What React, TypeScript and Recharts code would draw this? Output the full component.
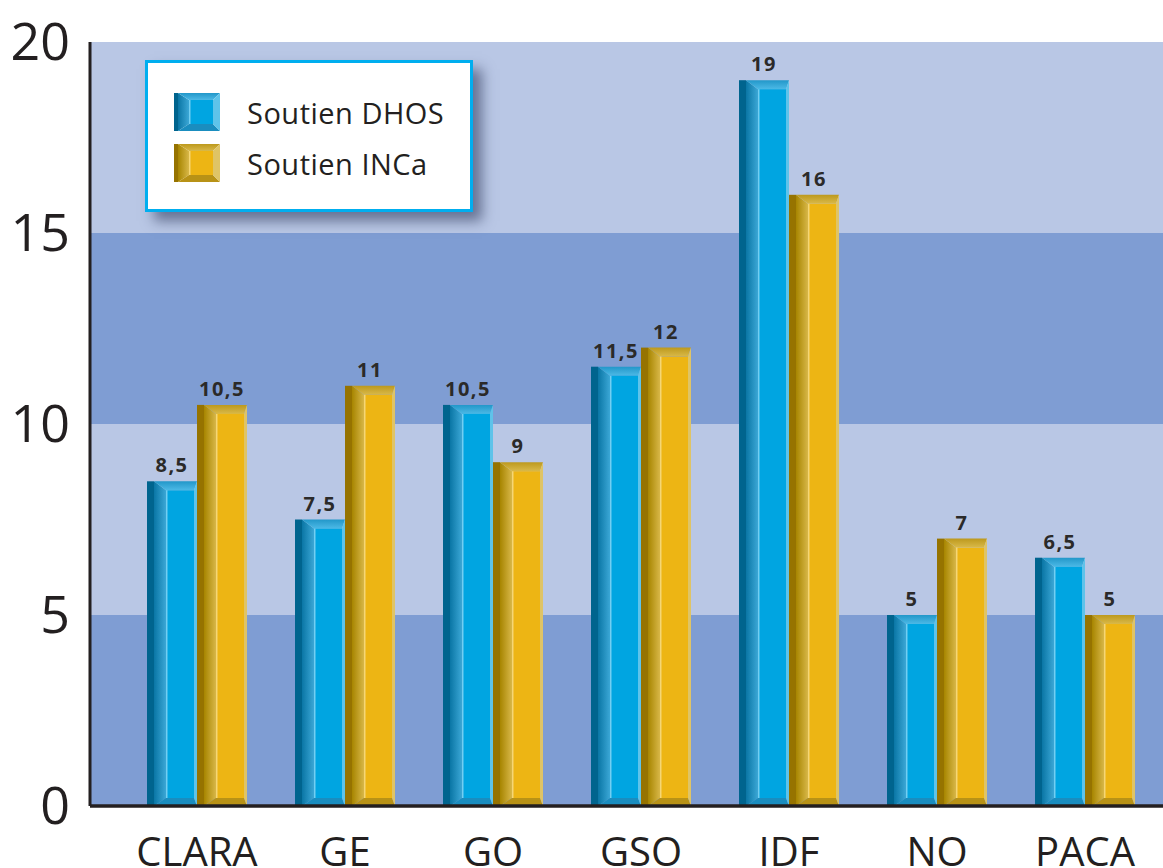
import React from 'react';
import { BarChart, Bar, XAxis, YAxis, CartesianGrid, Legend, LabelList } from 'recharts';

// Regions and the two funding series
const regions = ['CLARA', 'GE', 'GO', 'GSO', 'IDF', 'NO', 'PACA'];
const dhosValues = [8.5, 7.5, 10.5, 11.5, 19, 5, 6.5];
const incaValues = [10.5, 11, 9, 12, 16, 7, 5];
const yTicks = [0, 5, 10, 15, 20];

const chartData = regions.map((name, i) => ({ name, dhos: dhosValues[i], inca: incaValues[i] }));

const INK = '#231f20';
const FONT = '"Open Sans", sans-serif';
const BAND_DARK = '#7f9dd3';
const BAND_LIGHT = '#b9c7e5';

type Tone = 'dhos' | 'inca';

const palettes: Record<Tone, Record<string, string>> = {
  dhos: {
    dark: '#00648e',
    sideFrom: '#0a76a5',
    sideTo: '#3ba7d6',
    topFrom: '#2297c9',
    topTo: '#4cb9e6',
    face: '#00a5e1',
    right: '#5ec3ea',
    bottom: '#1a8dbf',
    line: '#72cef2',
  },
  inca: {
    dark: '#967300',
    sideFrom: '#a78500',
    sideTo: '#d8b748',
    topFrom: '#bd991d',
    topTo: '#d9b949',
    face: '#edb514',
    right: '#dfc466',
    bottom: '#b89216',
    line: '#f5d675',
  },
};

interface BevelDims {
  strip: number;
  inset: number;
  right: number;
  topH: number;
  bottomH: number;
}

const barDims: BevelDims = { strip: 7, inset: 19, right: 3, topH: 9, bottomH: 8 };
const iconDims: BevelDims = { strip: 4, inset: 15, right: 7, topH: 7, bottomH: 7 };

const BevelDefs = ({ prefix }: { prefix: string }) => (
  <defs>
    {(Object.keys(palettes) as Tone[]).map((tone) => (
      <React.Fragment key={tone}>
        <linearGradient id={`${prefix}-${tone}-side`} x1="0" y1="0" x2="1" y2="0">
          <stop offset="0%" stopColor={palettes[tone].sideFrom} />
          <stop offset="100%" stopColor={palettes[tone].sideTo} />
        </linearGradient>
        <linearGradient id={`${prefix}-${tone}-top`} x1="0" y1="0" x2="0" y2="1">
          <stop offset="0%" stopColor={palettes[tone].topFrom} />
          <stop offset="100%" stopColor={palettes[tone].topTo} />
        </linearGradient>
      </React.Fragment>
    ))}
  </defs>
);

// 3D bevelled block: dark left strip, shaded side, top/bottom chamfers and a flat face
const BevelShape = (props: any) => {
  const { x, y, width, height, tone, prefix, dims } = props;
  if (!height || height <= 0) return null;
  const p = palettes[tone as Tone];
  const d: BevelDims = dims;
  const x0 = x;
  const x1 = x + d.strip;
  const x2 = x + d.inset;
  const x3 = x + width - d.right;
  const x4 = x + width;
  const y0 = y;
  const y1 = y + d.topH;
  const y2 = y + height - d.bottomH;
  const y3 = y + height;
  return (
    <g>
      <rect x={x0} y={y0} width={d.strip} height={height} fill={p.dark} />
      <polygon points={`${x1},${y0} ${x2},${y1} ${x2},${y2} ${x1},${y3}`} fill={`url(#${prefix}-${tone}-side)`} />
      <polygon points={`${x1},${y0} ${x4},${y0} ${x3},${y1} ${x2},${y1}`} fill={`url(#${prefix}-${tone}-top)`} />
      <polygon points={`${x2},${y2} ${x3},${y2} ${x4},${y3} ${x1},${y3}`} fill={p.bottom} />
      <polygon points={`${x3},${y1} ${x4},${y0} ${x4},${y3} ${x3},${y2}`} fill={p.right} />
      <rect x={x2} y={y1} width={x3 - x2} height={y2 - y1} fill={p.face} />
      <line x1={x2 + 0.75} y1={y1} x2={x2 + 0.75} y2={y2} stroke={p.line} strokeWidth={1.5} />
    </g>
  );
};

const formatValue = (v: any) => String(v).replace('.', ',');

const renderLegend = (props: any) => {
  const { payload = [] } = props;
  return (
    <div
      style={{
        boxSizing: 'border-box',
        width: 328,
        height: 152,
        background: '#ffffff',
        border: '3px solid #00aeef',
        boxShadow: '9px 9px 12px rgba(35, 45, 80, 0.55)',
        position: 'relative',
        fontFamily: FONT,
      }}
    >
      {payload.map((entry: any, i: number) => (
        <div
          key={entry.value}
          style={{ position: 'absolute', left: 26, top: 30 + i * 51, display: 'flex', alignItems: 'center', height: 38 }}
        >
          <svg width={46} height={38} style={{ display: 'block' }}>
            <BevelDefs prefix={`legend${i}`} />
            <BevelShape x={0} y={0} width={46} height={38} tone={entry.dataKey} prefix={`legend${i}`} dims={iconDims} />
          </svg>
          <span style={{ marginLeft: 27, fontSize: 29, color: INK, whiteSpace: 'nowrap', letterSpacing: 0.5 }}>
            {entry.value}
          </span>
        </div>
      ))}
    </div>
  );
};

const labelStyle = { fill: '#2b2a29', fontSize: 20, fontWeight: 700, fontFamily: FONT, letterSpacing: 1.5 };

export default function App() {
  return (
    <div style={{ position: 'absolute', left: 0, top: 0, background: '#ffffff' }}>
      <BarChart
        width={1163}
        height={868}
        data={chartData}
        margin={{ top: 42, right: 0, bottom: 0, left: 0 }}
        barCategoryGap={24}
        barGap={0}
      >
        <BevelDefs prefix="bar" />
        {/* alternating horizontal bands between the y ticks, top band light */}
        <CartesianGrid vertical={false} stroke="none" horizontalFill={[BAND_LIGHT, BAND_DARK]} fillOpacity={1} />
        <XAxis
          dataKey="name"
          height={62}
          padding={{ left: 33, right: 4 }}
          interval={0}
          axisLine={{ stroke: INK, strokeWidth: 3.5 }}
          tickLine={false}
          tickSize={0}
          tickMargin={32}
          tick={{ fill: INK, fontSize: 40, fontFamily: FONT }}
        />
        <YAxis
          width={90}
          domain={[0, 20]}
          ticks={yTicks}
          interval={0}
          axisLine={{ stroke: INK, strokeWidth: 3 }}
          tickLine={false}
          tickSize={0}
          tickMargin={20}
          tick={{ fill: INK, fontSize: 52, fontFamily: FONT }}
        />
        <Legend
          layout="vertical"
          align="center"
          verticalAlign="middle"
          content={renderLegend}
          wrapperStyle={{ left: 145, top: 60, width: 328, height: 152 }}
        />
        <Bar
          dataKey="dhos"
          name="Soutien DHOS"
          fill={palettes.dhos.face}
          isAnimationActive={false}
          shape={(p: any) => <BevelShape {...p} tone="dhos" prefix="bar" dims={barDims} />}
        >
          <LabelList dataKey="dhos" position="top" offset={9} formatter={formatValue} style={labelStyle} />
        </Bar>
        <Bar
          dataKey="inca"
          name="Soutien INCa"
          fill={palettes.inca.face}
          isAnimationActive={false}
          shape={(p: any) => <BevelShape {...p} tone="inca" prefix="bar" dims={barDims} />}
        >
          <LabelList dataKey="inca" position="top" offset={9} formatter={formatValue} style={labelStyle} />
        </Bar>
      </BarChart>
    </div>
  );
}
